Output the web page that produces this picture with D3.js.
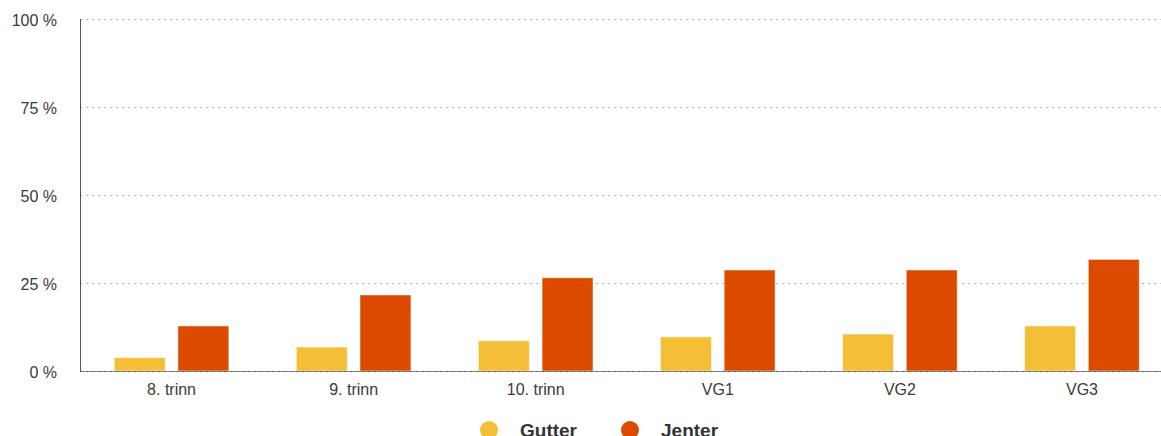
<!DOCTYPE html>
<html>
<head>
<meta charset="utf-8">
<script src="https://cdn.jsdelivr.net/npm/d3@7/dist/d3.min.js"></script>
<style>
  html, body { margin: 0; padding: 0; background: #fff; }
  svg { display: block; font-family: "Liberation Sans", Arial, sans-serif; }
</style>
</head>
<body>
<svg id="chart" width="1161" height="436"></svg>
<script>
const categories = ["8. trinn", "9. trinn", "10. trinn", "VG1", "VG2", "VG3"];
const seriesNames = ["Gutter", "Jenter"];
const gutter = [3.8, 6.8, 8.6, 9.7, 10.5, 12.8];
const jenter = [12.8, 21.6, 26.5, 28.7, 28.7, 31.7];
const yTicks = [0, 25, 50, 75, 100];
const colors = ["#F4BF36", "#DC4A00"];

(function () {
const svg = d3.select("#chart");
const pLeft = 80.5, pRight = 1173, pTop = 19, pBottom = 371;

const x = d3.scaleBand().domain(categories).range([pLeft, pRight]).paddingInner(0).paddingOuter(0);
const xInner = d3.scaleBand().domain(seriesNames).range([0, x.bandwidth()]).paddingInner(0.2).paddingOuter(0.53);
const y = d3.scaleLinear().domain([0, 100]).range([pBottom, pTop]);

// gridlines
const grid = svg.append("g");
grid.selectAll("line").data(yTicks).join("line")
  .attr("x1", pLeft).attr("x2", 1161)
  .attr("y1", d => Math.round(y(d)) + 0.5).attr("y2", d => Math.round(y(d)) + 0.5)
  .attr("stroke", "#a0a0a0").attr("stroke-width", 1)
  .attr("stroke-dasharray", "1.5,4.5");

// y labels
const yAxis = d3.axisLeft(y).tickValues(yTicks).tickSize(0).tickPadding(0).tickFormat(d => d + " %");
const gy = svg.append("g").attr("transform", `translate(57,0)`).call(yAxis);
gy.select(".domain").remove();
gy.selectAll("text").attr("font-size", 16).attr("fill", "#3a3a3a").attr("dy", "0.42em")
  .attr("font-family", "Liberation Sans, Arial, sans-serif");

// bars
const data = categories.map((c, i) => ({ c, vals: [gutter[i], jenter[i]] }));
const groups = svg.append("g").selectAll("g").data(data).join("g")
  .attr("transform", d => `translate(${x(d.c)},0)`);
groups.selectAll("rect").data(d => d.vals.map((v, k) => ({ k, v }))).join("rect")
  .attr("x", d => xInner(seriesNames[d.k]))
  .attr("width", xInner.bandwidth())
  .attr("y", d => y(d.v))
  .attr("height", d => pBottom - y(d.v))
  .attr("fill", d => colors[d.k])
  .attr("stroke", "rgba(255,255,255,0.5)").attr("stroke-width", 1);

// baseline (x axis)
svg.append("line").attr("x1", pLeft).attr("x2", 1161).attr("y1", pBottom + 0.5).attr("y2", pBottom + 0.5)
  .attr("stroke", "#888").attr("stroke-width", 1);
svg.append("line").attr("x1", pLeft).attr("x2", 1161).attr("y1", pBottom + 0.5).attr("y2", pBottom + 0.5)
  .attr("stroke", "#555").attr("stroke-width", 1).attr("stroke-dasharray", "1.5,4.5");

// x labels
const xAxis = d3.axisBottom(x).tickSize(0).tickPadding(0);
const gx = svg.append("g").attr("transform", `translate(0,${pBottom})`).call(xAxis);
gx.select(".domain").remove();
gx.selectAll("text").attr("font-size", 16).attr("fill", "#3a3a3a").attr("dy", "0").attr("y", 23.5)
  .attr("font-family", "Liberation Sans, Arial, sans-serif");

// y axis line
svg.append("line").attr("x1", pLeft).attr("x2", pLeft).attr("y1", pTop).attr("y2", pBottom + 1)
  .attr("stroke", "#555").attr("stroke-width", 1);

// legend
const legendX = [489, 630];
const lg = svg.append("g").selectAll("g").data(seriesNames).join("g")
  .attr("transform", (d, i) => `translate(${legendX[i]},430)`);
lg.append("circle").attr("r", 9).attr("fill", (d, i) => colors[i]);
lg.append("text").attr("x", 31).attr("dy", "0.36em").text(d => d)
  .attr("font-size", 19).attr("font-weight", "bold").attr("fill", "#333");
})();
</script>
</body>
</html>
